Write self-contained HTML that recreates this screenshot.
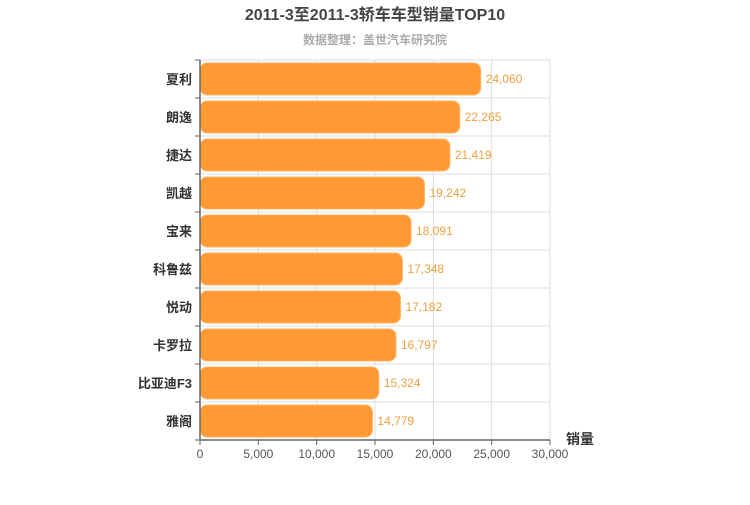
<!DOCTYPE html>
<html><head><meta charset="utf-8"><style>
body{margin:0;background:#fff;}
svg text{font-family:"Liberation Sans","Noto Sans CJK SC",sans-serif;}
</style></head><body>
<svg id="chart" width="750" height="500" xmlns="http://www.w3.org/2000/svg">
<text x="375" y="20" text-anchor="middle" font-size="16" font-weight="bold" fill="#444">2011-3至2011-3轿车车型销量TOP10</text>
<text x="375" y="44" text-anchor="middle" font-size="12" font-weight="bold" fill="#aaa">数据整理：盖世汽车研究院</text>
<g id="grid"></g><g id="bars"></g><g id="axes"></g>
<text x="580" y="444" text-anchor="middle" font-size="14" font-weight="bold" fill="#333">销量</text>
</svg>
<script>
const categories=["夏利","朗逸","捷达","凯越","宝来","科鲁兹","悦动","卡罗拉","比亚迪F3","雅阁"];
const values=[24060,22265,21419,19242,18091,17348,17182,16797,15324,14779];
const valueLabels=["24,060","22,265","21,419","19,242","18,091","17,348","17,182","16,797","15,324","14,779"];
const xTicks=[0,5000,10000,15000,20000,25000,30000];
const xTickLabels=["0","5,000","10,000","15,000","20,000","25,000","30,000"];
const NS="http://www.w3.org/2000/svg";
const x0=200,x1=550,yTop=60,yBot=440,xMax=30000;
const x=v=>x0+(v/xMax)*(x1-x0);
const band=(yBot-yTop)/categories.length;
const y=i=>yTop+i*band;
function mk(tag,attrs,parent,txt){const e=document.createElementNS(NS,tag);for(const k in attrs)e.setAttribute(k,attrs[k]);if(txt!==undefined)e.textContent=txt;parent.appendChild(e);return e;}
const grid=document.getElementById('grid'),bars=document.getElementById('bars'),axes=document.getElementById('axes');
xTicks.forEach((t,i)=>{
 if(i>0){const g=mk('line',{x1:x(t),x2:x(t),y1:yTop,y2:yBot,stroke:'#ddd','stroke-width':1},grid);
 
 }
 const tk=mk('line',{x1:x(t),x2:x(t),y1:yBot,y2:yBot+5,stroke:'#666'},axes);
 
 
 const lb=mk('text',{x:x(t),y:yBot+18,'text-anchor':'middle','font-size':12,fill:'#555'},axes,xTickLabels[i]);
 
 
});
categories.forEach((c,i)=>{
 const gl=mk('line',{x1:x0,x2:x1,y1:y(i),y2:y(i),stroke:'#ddd'},grid);
 
 
 const tk=mk('line',{x1:x0-5,x2:x0,y1:y(i),y2:y(i),stroke:'#666'},axes);
 
 
 const r=mk('rect',{x:x0,y:y(i)+3,width:x(values[i])-x0,height:band-6,rx:7,ry:7,fill:'#ff9933',stroke:'#ffb366','stroke-width':1},bars);
 
 
 const vl=mk('text',{x:x(values[i])+5,y:y(i)+band/2+4,'font-size':12,fill:'#f0a040'},bars,valueLabels[i]);
 
 
 const cl=mk('text',{x:x0-8,y:y(i)+band/2+5,'text-anchor':'end','font-size':13,'font-weight':'bold',fill:'#333'},axes,c);
 
 
});
const bt=mk('line',{x1:x0-5,x2:x0,y1:yBot,y2:yBot,stroke:'#666'},axes);


const ya=mk('line',{x1:x0,x2:x0,y1:yTop,y2:yBot,stroke:'#666','stroke-width':1.5},axes);


const xa=mk('line',{x1:x0,x2:x1,y1:yBot,y2:yBot,stroke:'#666','stroke-width':1.5},axes);


</script>
</body></html>
